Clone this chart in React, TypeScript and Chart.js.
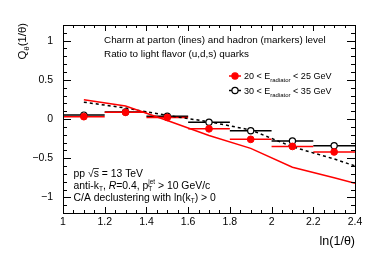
import React, { useEffect, useRef } from "react";
import { Chart, registerables } from "chart.js";
Chart.register(...registerables);

const FONT = '"Liberation Sans", Arial, Helvetica, sans-serif';

// bins in ln(1/theta)
const binCenters = [1.1, 1.3, 1.5, 1.7, 1.9, 2.1, 2.3];
const binHalfWidth = [0.1, 0.1, 0.1, 0.1, 0.1, 0.1, 0.1];

// hadron level (markers)
const hadronLow = [0.03, 0.085, 0.02, -0.125, -0.26, -0.35, -0.42]; // 20 < E < 25 GeV
const hadronLowErr = [0.01, 0.01, 0.01, 0.01, 0.012, 0.015, 0.03];
const hadronHigh = [0.05, 0.09, 0.035, -0.04, -0.15, -0.28, -0.34]; // 30 < E < 35 GeV
const hadronHighErr = [0.008, 0.008, 0.008, 0.008, 0.008, 0.01, 0.01];

// parton level (lines)
const partonX = [1.1, 1.3, 1.5, 1.7, 1.9, 2.1, 2.3, 2.4];
const partonLow = [0.245, 0.165, -0.02, -0.21, -0.375, -0.615, -0.75, -0.82];
const partonHigh = [0.215, 0.14, 0.045, -0.035, -0.14, -0.355, -0.51, -0.6];

const xTicks = [1, 1.2, 1.4, 1.6, 1.8, 2, 2.2, 2.4];
const yTicks = [-1, -0.5, 0, 0.5, 1];

const RED = "#ff0000";
const BLACK = "#000000";

type Seg = { t: string; size?: number; dy?: number; italic?: boolean; adv?: boolean };

function drawRich(ctx: CanvasRenderingContext2D, x: number, y: number, segs: Seg[], base: number) {
  let cx = x;
  ctx.textAlign = "left";
  ctx.textBaseline = "alphabetic";
  for (const s of segs) {
    ctx.font = `${s.italic ? "italic " : ""}${s.size ?? base}px ${FONT}`;
    ctx.fillText(s.t, cx, y + (s.dy ?? 0));
    if (s.adv !== false) cx += ctx.measureText(s.t).width;
  }
  return cx - x;
}

function measureRich(ctx: CanvasRenderingContext2D, segs: Seg[], base: number) {
  let w = 0;
  for (const s of segs) {
    ctx.font = `${s.italic ? "italic " : ""}${s.size ?? base}px ${FONT}`;
    if (s.adv !== false) w += ctx.measureText(s.t).width;
  }
  return w;
}

const decorPlugin = {
  id: "decor",
  beforeDatasetsDraw(chart: any) {
    const ctx: CanvasRenderingContext2D = chart.ctx;
    const xs = chart.scales.x;
    const ys = chart.scales.y;
    const bars = (vals: number[], errs: number[], color: string) => {
      ctx.save();
      ctx.strokeStyle = color;
      ctx.lineWidth = 1.5;
      vals.forEach((v, i) => {
        const x0 = xs.getPixelForValue(binCenters[i] - binHalfWidth[i]);
        const x1 = xs.getPixelForValue(binCenters[i] + binHalfWidth[i]);
        const yp = ys.getPixelForValue(v);
        ctx.beginPath();
        ctx.moveTo(x0, yp);
        ctx.lineTo(x1, yp);
        const xc = xs.getPixelForValue(binCenters[i]);
        ctx.moveTo(xc, ys.getPixelForValue(v - errs[i]));
        ctx.lineTo(xc, ys.getPixelForValue(v + errs[i]));
        ctx.stroke();
      });
      ctx.restore();
    };
    bars(hadronHigh, hadronHighErr, BLACK);
    bars(hadronLow, hadronLowErr, RED);
  },
  afterDatasetsDraw(chart: any) {
    const ctx: CanvasRenderingContext2D = chart.ctx;
    const { left, right, top, bottom } = chart.chartArea;
    const xs = chart.scales.x;
    const ys = chart.scales.y;
    ctx.save();
    ctx.strokeStyle = BLACK;
    ctx.lineWidth = 1;
    ctx.strokeRect(Math.round(left) + 0.5, Math.round(top) + 0.5, Math.round(right - left), Math.round(bottom - top));

    // x ticks (bottom and top)
    ctx.beginPath();
    for (let i = 0; i <= 28; i++) {
      const v = 1 + i * 0.05;
      const px = Math.round(xs.getPixelForValue(v)) + 0.5;
      const len = i % 4 === 0 ? 6 : 3;
      ctx.moveTo(px, bottom);
      ctx.lineTo(px, bottom - len);
      ctx.moveTo(px, top);
      ctx.lineTo(px, top + len);
    }
    // y ticks (left and right)
    for (let i = 0; i <= 24; i++) {
      const v = -1.2 + i * 0.1;
      const py = Math.round(ys.getPixelForValue(v)) + 0.5;
      const major = Math.abs(Math.round(v * 10) % 5) === 0;
      const len = major ? 8 : 4;
      ctx.moveTo(left, py);
      ctx.lineTo(left + len, py);
      ctx.moveTo(right, py);
      ctx.lineTo(right - len, py);
    }
    ctx.stroke();

    ctx.fillStyle = BLACK;
    // header text
    drawRich(ctx, 104, 43, [{ t: "Charm at parton (lines) and hadron (markers) level" }], 9.9);
    drawRich(ctx, 104, 57, [{ t: "Ratio to light flavor (u,d,s) quarks" }], 9.9);

    // legend
    const legend = [
      { y: 76, color: RED, fill: RED, lo: "20", hi: "25" },
      { y: 90.5, color: BLACK, fill: "#ffffff", lo: "30", hi: "35" },
    ];
    legend.forEach((l) => {
      ctx.strokeStyle = l.color;
      ctx.lineWidth = 1.5;
      ctx.beginPath();
      ctx.moveTo(229, l.y);
      ctx.lineTo(241, l.y);
      ctx.stroke();
      ctx.beginPath();
      ctx.arc(235, l.y, 3.1, 0, Math.PI * 2);
      ctx.fillStyle = l.fill;
      ctx.fill();
      ctx.lineWidth = 1.2;
      ctx.stroke();
      ctx.fillStyle = BLACK;
      drawRich(
        ctx,
        244,
        l.y + 3.3,
        [
          { t: `${l.lo} < E` },
          { t: "radiator", size: 6, dy: 3 },
          { t: ` < ${l.hi} GeV` },
        ],
        9
      );
    });

    // bottom-left annotations
    const fs = 10.4;
    const w1 = drawRich(ctx, 73.5, 176.5, [{ t: "pp " }], fs);
    ctx.font = `${fs}px ${FONT}`;
    const sqrtX = 73.5 + w1;
    ctx.fillText("\u221A", sqrtX, 176.5);
    const sw = ctx.measureText("\u221A").width;
    const sW = ctx.measureText("s").width;
    ctx.fillText("s", sqrtX + sw, 176.5);
    ctx.lineWidth = 0.8;
    ctx.strokeStyle = BLACK;
    ctx.beginPath();
    ctx.moveTo(sqrtX + sw - 0.5, 168.5);
    ctx.lineTo(sqrtX + sw + sW, 168.5);
    ctx.stroke();
    drawRich(ctx, sqrtX + sw + sW, 176.5, [{ t: " = 13 TeV" }], fs);

    drawRich(
      ctx,
      73.5,
      188.5,
      [
        { t: "anti-k" },
        { t: "T", size: 6.5, dy: 2.5 },
        { t: ", " },
        { t: "R", italic: true },
        { t: "=0.4, p" },
        { t: "T", size: 6.5, dy: 2.5, adv: false },
        { t: "jet", size: 6.5, dy: -5 },
        { t: " > 10 GeV/c" },
      ],
      fs
    );
    drawRich(
      ctx,
      73.5,
      200.5,
      [
        { t: "C/A declustering with ln(k" },
        { t: "T", size: 6.5, dy: 2.5 },
        { t: ") > 0" },
      ],
      fs
    );

    // axis titles
    ctx.fillStyle = BLACK;
    const xt = [{ t: "ln(1/\u03B8)" }];
    const xw = measureRich(ctx, xt, 12.5);
    drawRich(ctx, 355 - xw, 245, xt, 12.5);

    const yt: Seg[] = [{ t: "Q" }, { t: "\u03B8", size: 8, dy: 3 }, { t: "(1/\u03B8)" }];
    const yw = measureRich(ctx, yt, 11.3);
    ctx.save();
    ctx.translate(26, 23);
    ctx.rotate(-Math.PI / 2);
    drawRich(ctx, -yw, 0, yt, 11.3);
    ctx.restore();

    ctx.restore();
  },
};

export default function App() {
  const ref = useRef<HTMLCanvasElement | null>(null);
  useEffect(() => {
    const canvas = ref.current;
    if (!canvas) return;
    const fmt = (v: number) => {
      const r = Math.round(v * 10) / 10;
      return r < 0 ? "\u2212" + String(Math.abs(r)) : String(r);
    };
    const chart = new Chart(canvas, {
      type: "line",
      data: {
        datasets: [
          {
            label: "20 < E_radiator < 25 GeV (hadron)",
            data: binCenters.map((x, i) => ({ x, y: hadronLow[i] })),
            showLine: false,
            pointRadius: 3.4,
            pointBackgroundColor: RED,
            pointBorderColor: RED,
            pointBorderWidth: 1,
          },
          {
            label: "30 < E_radiator < 35 GeV (hadron)",
            data: binCenters.map((x, i) => ({ x, y: hadronHigh[i] })),
            showLine: false,
            pointRadius: 3.1,
            pointBackgroundColor: "#ffffff",
            pointBorderColor: BLACK,
            pointBorderWidth: 1.2,
          },
          {
            label: "20 < E_radiator < 25 GeV (parton)",
            data: partonX.map((x, i) => ({ x, y: partonLow[i] })),
            borderColor: RED,
            borderWidth: 1.5,
            pointRadius: 0,
            fill: false,
            tension: 0,
          },
          {
            label: "30 < E_radiator < 35 GeV (parton)",
            data: partonX.map((x, i) => ({ x, y: partonHigh[i] })),
            borderColor: BLACK,
            borderWidth: 1.5,
            borderDash: [3, 3],
            pointRadius: 0,
            fill: false,
            tension: 0,
          },
        ],
      },
      options: {
        animation: false,
        responsive: false,
        events: [],
        layout: { padding: { top: 25, right: 19, left: 0, bottom: 0 } },
        plugins: { legend: { display: false }, tooltip: { enabled: false } },
        scales: {
          x: {
            type: "linear",
            min: 1,
            max: 2.4,
            grid: { display: false, drawTicks: false },
            border: { display: false },
            afterBuildTicks: (s: any) => {
              s.ticks = xTicks.map((v) => ({ value: v }));
            },
            afterFit: (s: any) => {
              s.height = 53;
            },
            ticks: {
              padding: 3,
              color: BLACK,
              font: { size: 10.5, family: FONT },
              autoSkip: false,
              maxRotation: 0,
              callback: (v: any) => fmt(Number(v)),
            },
          },
          y: {
            type: "linear",
            min: -1.2,
            max: 1.2,
            grid: { display: false, drawTicks: false },
            border: { display: false },
            afterBuildTicks: (s: any) => {
              s.ticks = yTicks.map((v) => ({ value: v }));
            },
            afterFit: (s: any) => {
              s.width = 63;
            },
            ticks: {
              padding: 10,
              color: BLACK,
              font: { size: 10.5, family: FONT },
              callback: (v: any) => fmt(Number(v)),
            },
          },
        },
      },
      plugins: [decorPlugin],
    } as any);
    return () => chart.destroy();
  }, []);
  return (
    <div style={{ position: "absolute", left: 0, top: 0, width: 374, height: 266, background: "#ffffff" }}>
      <canvas ref={ref} width={374} height={266} style={{ width: 374, height: 266, display: "block" }} />
    </div>
  );
}
